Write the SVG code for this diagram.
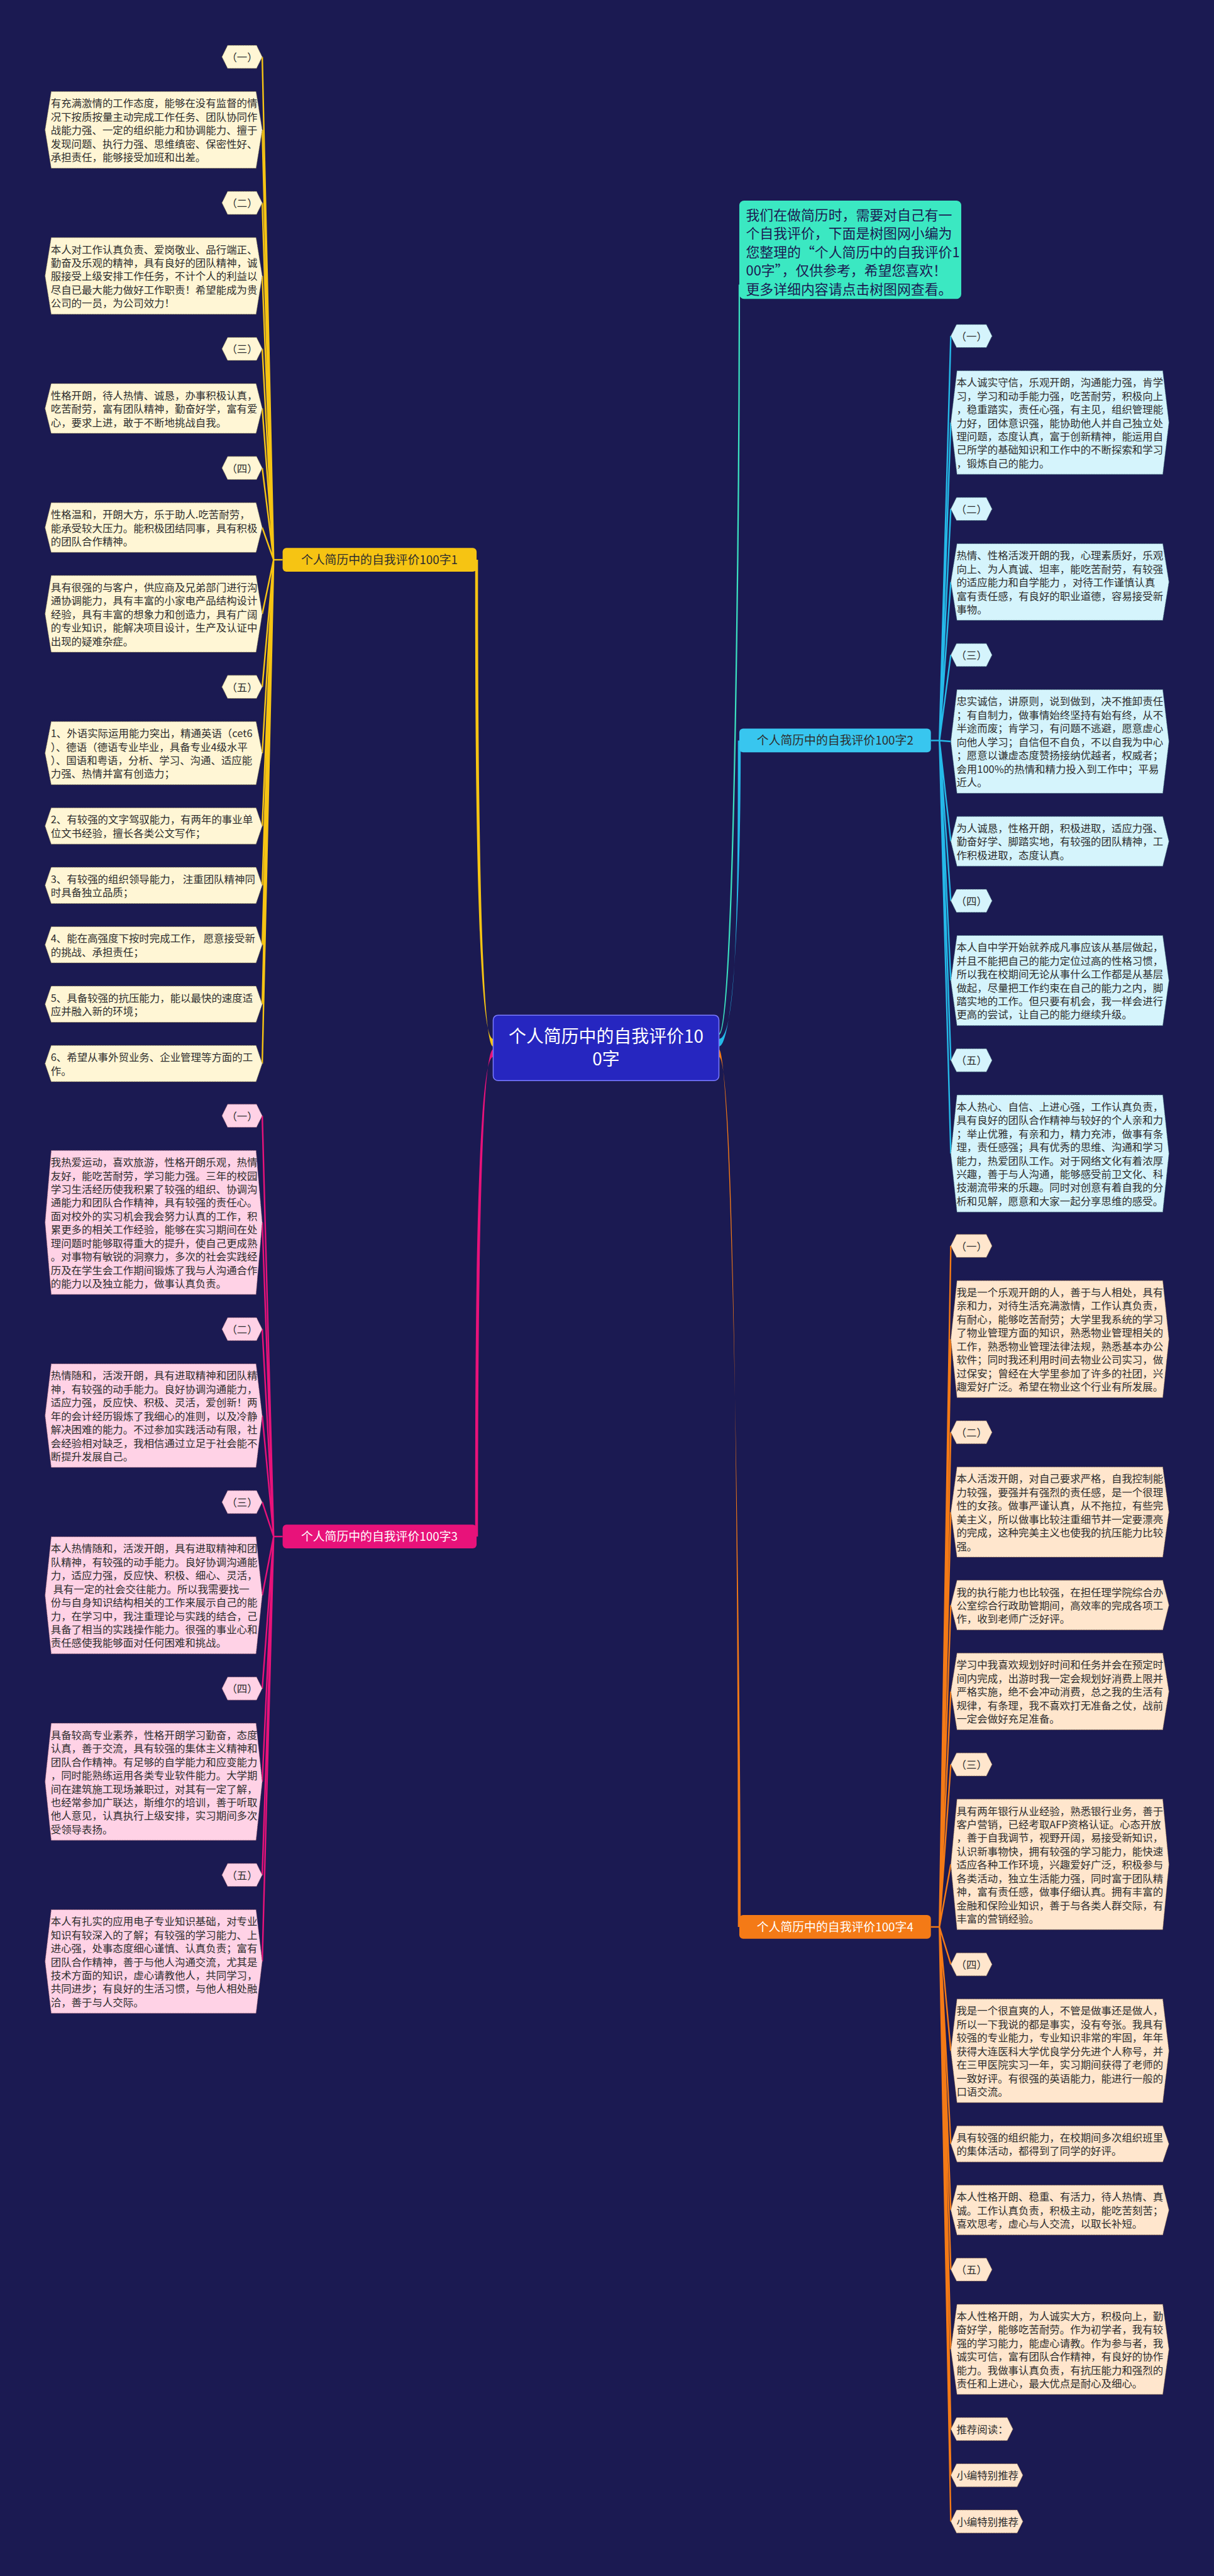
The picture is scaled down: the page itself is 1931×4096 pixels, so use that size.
<svg xmlns="http://www.w3.org/2000/svg" width="1931" height="4096" viewBox="0 0 1931 4096">
<style>
.tx{font-family:"Noto Sans CJK SC","Noto Sans",sans-serif;font-size:21.8px;fill:#2e2e2e}
.lb{font-family:"Noto Sans CJK SC","Noto Sans",sans-serif;font-size:21.8px;fill:#2e2e2e;text-anchor:middle}
.by{fill:#fff6d5;stroke:#7d7148;stroke-width:1.2;stroke-dasharray:2 1.5}
.bp{fill:#ffd2e6;stroke:#7d4a62;stroke-width:1.2;stroke-dasharray:2 1.5}
.bc{fill:#d5f4fc;stroke:#3f6b78;stroke-width:1.2;stroke-dasharray:2 1.5}
.bo{fill:#ffe6cd;stroke:#7d5c40;stroke-width:1.2;stroke-dasharray:2 1.5}
.cy{stroke:#f6c413;stroke-width:3.2;fill:none}
.cp{stroke:#e8127a;stroke-width:3.2;fill:none}
.cc{stroke:#25b9e8;stroke-width:3.2;fill:none}
.co{stroke:#f47a16;stroke-width:3.2;fill:none}
.br{font-family:"Noto Sans CJK SC","Noto Sans",sans-serif;font-size:25px;text-anchor:middle}
</style>
<rect width="1931" height="4096" fill="#1b1a52"/>
<g transform="scale(0.754297)">
<g id="connectors">
<path fill="#f6c413" d="M1040,2190 C1002,2190 1002,1500 1002,1180 L1008,1180 C1008,1500 1010,2206 1040,2206 Z"/>
<path fill="#e8127a" d="M1040,2212 C1010,2212 1008,2900 1008,3239 L1002,3239 C1002,2900 1002,2228 1040,2228 Z"/>
<path fill="#25b9e8" d="M1516,2190 C1554,2190 1556,1900 1556,1561 L1562,1561 C1562,1900 1546,2206 1516,2206 Z"/>
<path fill="#f47a16" d="M1516,2212 C1546,2212 1562,3600 1562,4062 L1556,4062 C1556,3600 1554,2228 1516,2228 Z"/>
<path d="M1516,2180 C1552,2180 1559,900 1559,600" stroke="#3be0c0" stroke-width="3" fill="none"/>
<path class="cy" d="M596,1180 L577,1180"/>
<path class="cy" d="M577,1180 L553,119.9 M577,1180 L553,273.8 M577,1180 L553,427.7 M577,1180 L553,581.6 M577,1180 L553,735.5 M577,1180 L553,861 M577,1180 L553,986.5 M577,1180 L553,1112 M577,1180 L553,1294 M577,1180 L553,1447.9 M577,1180 L553,1587.6 M577,1180 L553,1741.2 M577,1180 L553,1866.4 M577,1180 L553,1991.6 M577,1180 L553,2116.8 M577,1180 L553,2242"/>
<path class="cp" d="M596,3239 L577,3239"/>
<path class="cp" d="M577,3239 L553,2352 M577,3239 L553,2576.9 M577,3239 L553,2801.8 M577,3239 L553,2984.1 M577,3239 L553,3166.4 M577,3239 L553,3362.9 M577,3239 L553,3559.4 M577,3239 L553,3755.9 M577,3239 L553,3952.4 M577,3239 L553,4134.7"/>
<path class="cc" d="M1963,1561 L1981,1561"/>
<path class="cc" d="M1981,1561 L2005,708.3 M1981,1561 L2005,890.6 M1981,1561 L2005,1072.9 M1981,1561 L2005,1226.8 M1981,1561 L2005,1380.7 M1981,1561 L2005,1563 M1981,1561 L2005,1773.4 M1981,1561 L2005,1898.9 M1981,1561 L2005,2067 M1981,1561 L2005,2235.1 M1981,1561 L2005,2431.6"/>
<path class="co" d="M1963,4062 L1981,4062"/>
<path class="co" d="M1981,4062 L2005,2626.3 M1981,4062 L2005,2822.8 M1981,4062 L2005,3019.3 M1981,4062 L2005,3187.4 M1981,4062 L2005,3383.6 M1981,4062 L2005,3565.6 M1981,4062 L2005,3719.5 M1981,4062 L2005,3930.2 M1981,4062 L2005,4140.9 M1981,4062 L2005,4323.2 M1981,4062 L2005,4519.4 M1981,4062 L2005,4658.8 M1981,4062 L2005,4784.3 M1981,4062 L2005,4952.4 M1981,4062 L2005,5120.5 M1981,4062 L2005,5217.9 M1981,4062 L2005,5315.3"/>
</g>

<g id="center">
<rect x="1040" y="2140" width="476" height="138" rx="10" fill="#2626c0" stroke="#7b7bff" stroke-width="2"/>
<text x="1278" y="2198" fill="#fff" font-family="Noto Sans CJK SC,sans-serif" font-size="37" text-anchor="middle">个人简历中的自我评价10</text>
<text x="1278" y="2246" fill="#fff" font-family="Noto Sans CJK SC,sans-serif" font-size="37" text-anchor="middle">0字</text>
</g>

<g id="intro">
<rect x="1559" y="423" width="468" height="207" rx="10" fill="#3be8c2"/>
<text font-family="Noto Sans CJK SC,sans-serif" font-size="29" fill="#1b1a52"><tspan x="1573" y="464">我们在做简历时，需要对自己有一</tspan><tspan x="1573" y="503">个自我评价，下面是树图网小编为</tspan><tspan x="1573" y="542">您整理的“个人简历中的自我评价1</tspan><tspan x="1573" y="581">00字”，仅供参考，希望您喜欢！</tspan><tspan x="1573" y="620">更多详细内容请点击树图网查看。</tspan></text>
</g>

<g id="b1">
<rect x="596" y="1155" width="409" height="50" rx="8" fill="#f6c413"/>
<text class="br" x="800" y="1189" fill="#2e2e2e">个人简历中的自我评价100字1</text>
</g>
<g id="b3">
<rect x="596" y="3214" width="409" height="50" rx="8" fill="#e8127a"/>
<text class="br" x="800" y="3248" fill="#fff">个人简历中的自我评价100字3</text>
</g>
<g id="b2">
<rect x="1559" y="1536" width="404" height="50" rx="8" fill="#38c6ef"/>
<text class="br" x="1761" y="1570" fill="#2e2e2e">个人简历中的自我评价100字2</text>
</g>
<g id="b4">
<rect x="1559" y="4037" width="404" height="50" rx="8" fill="#f47a16"/>
<text class="br" x="1761" y="4071" fill="#fff">个人简历中的自我评价100字4</text>
</g>

<!-- Branch 1 -->
<g id="b1l1"><polygon class="by" points="468,119.9 480,95.6 541,95.6 553,119.9 541,144.2 480,144.2"/><text class="lb" x="510.5" y="128.6">（一）</text></g>
<g id="b1t1"><polygon class="by" points="95,273.8 108,193 540,193 553,273.8 540,354.6 108,354.6"/><text class="tx"><tspan x="107" y="226">有充满激情的工作态度，能够在没有监督的情</tspan><tspan x="107" y="254.4">况下按质按量主动完成工作任务、团队协同作</tspan><tspan x="107" y="282.8">战能力强、一定的组织能力和协调能力、擅于</tspan><tspan x="107" y="311.2">发现问题、执行力强、思维缜密、保密性好、</tspan><tspan x="107" y="339.6">承担责任，能够接受加班和出差。</tspan></text></g>
<g id="b1l2"><polygon class="by" points="468,427.7 480,403.4 541,403.4 553,427.7 541,452 480,452"/><text class="lb" x="510.5" y="436.4">（二）</text></g>
<g id="b1t2"><polygon class="by" points="95,581.6 108,500.8 540,500.8 553,581.6 540,662.4 108,662.4"/><text class="tx"><tspan x="107" y="533.8">本人对工作认真负责、爱岗敬业、品行端正、</tspan><tspan x="107" y="562.2">勤奋及乐观的精神，具有良好的团队精神，诚</tspan><tspan x="107" y="590.6">服接受上级安排工作任务，不计个人的利益以</tspan><tspan x="107" y="619">尽自已最大能力做好工作职责！希望能成为贵</tspan><tspan x="107" y="647.4">公司的一员，为公司效力！</tspan></text></g>
<g id="b1l3"><polygon class="by" points="468,735.5 480,711.2 541,711.2 553,735.5 541,759.8 480,759.8"/><text class="lb" x="510.5" y="744.2">（三）</text></g>
<g id="b1t3"><polygon class="by" points="95,861 108,808.6 540,808.6 553,861 540,913.4 108,913.4"/><text class="tx"><tspan x="107" y="841.6">性格开朗，待人热情、诚恳，办事积极认真，</tspan><tspan x="107" y="870">吃苦耐劳，富有团队精神，勤奋好学，富有爱</tspan><tspan x="107" y="898.4">心，要求上进，敢于不断地挑战自我。</tspan></text></g>
<g id="b1l4"><polygon class="by" points="468,986.5 480,962.2 541,962.2 553,986.5 541,1010.8 480,1010.8"/><text class="lb" x="510.5" y="995.2">（四）</text></g>
<g id="b1t4"><polygon class="by" points="95,1112 108,1059.6 540,1059.6 553,1112 540,1164.4 108,1164.4"/><text class="tx"><tspan x="107" y="1092.6">性格温和，开朗大方，乐于助人.吃苦耐劳，</tspan><tspan x="107" y="1121">能承受较大压力。能积极团结同事，具有积极</tspan><tspan x="107" y="1149.4">的团队合作精神。</tspan></text></g>
<g id="b1t5"><polygon class="by" points="95,1294 108,1213.2 540,1213.2 553,1294 540,1374.8 108,1374.8"/><text class="tx"><tspan x="107" y="1246.2">具有很强的与客户，供应商及兄弟部门进行沟</tspan><tspan x="107" y="1274.6">通协调能力，具有丰富的小家电产品结构设计</tspan><tspan x="107" y="1303">经验，具有丰富的想象力和创造力，具有广阔</tspan><tspan x="107" y="1331.4">的专业知识，能解决项目设计，生产及认证中</tspan><tspan x="107" y="1359.8">出现的疑难杂症。</tspan></text></g>
<g id="b1l5"><polygon class="by" points="468,1447.9 480,1423.6 541,1423.6 553,1447.9 541,1472.2 480,1472.2"/><text class="lb" x="510.5" y="1456.6">（五）</text></g>
<g id="b1t6"><polygon class="by" points="95,1587.6 108,1521 540,1521 553,1587.6 540,1654.2 108,1654.2"/><text class="tx"><tspan x="107" y="1554">1、外语实际运用能力突出，精通英语（cet6</tspan><tspan x="107" y="1582.4">）、德语（德语专业毕业，具备专业4级水平</tspan><tspan x="107" y="1610.8">）、国语和粤语，分析、学习、沟通、适应能</tspan><tspan x="107" y="1639.2">力强、热情并富有创造力；</tspan></text></g>
<g id="b1t7"><polygon class="by" points="95,1741.2 108,1703 540,1703 553,1741.2 540,1779.4 108,1779.4"/><text class="tx"><tspan x="107" y="1736">2、有较强的文字驾驭能力，有两年的事业单</tspan><tspan x="107" y="1764.4">位文书经验，擅长各类公文写作；</tspan></text></g>
<g id="b1t8"><polygon class="by" points="95,1866.4 108,1828.2 540,1828.2 553,1866.4 540,1904.6 108,1904.6"/><text class="tx"><tspan x="107" y="1861.2">3、有较强的组织领导能力， 注重团队精神同</tspan><tspan x="107" y="1889.6">时具备独立品质；</tspan></text></g>
<g id="b1t9"><polygon class="by" points="95,1991.6 108,1953.4 540,1953.4 553,1991.6 540,2029.8 108,2029.8"/><text class="tx"><tspan x="107" y="1986.4">4、能在高强度下按时完成工作， 愿意接受新</tspan><tspan x="107" y="2014.8">的挑战、承担责任；</tspan></text></g>
<g id="b1t10"><polygon class="by" points="95,2116.8 108,2078.6 540,2078.6 553,2116.8 540,2155 108,2155"/><text class="tx"><tspan x="107" y="2111.6">5、具备较强的抗压能力，能以最快的速度适</tspan><tspan x="107" y="2140">应并融入新的环境；</tspan></text></g>
<g id="b1t11"><polygon class="by" points="95,2242 108,2203.8 540,2203.8 553,2242 540,2280.2 108,2280.2"/><text class="tx"><tspan x="107" y="2236.8">6、希望从事外贸业务、企业管理等方面的工</tspan><tspan x="107" y="2265.2">作。</tspan></text></g>

<!-- Branch 3 -->
<g id="b3l1"><polygon class="bp" points="468,2352 480,2327.7 541,2327.7 553,2352 541,2376.3 480,2376.3"/><text class="lb" x="510.5" y="2360.7">（一）</text></g>
<g id="b3t1"><polygon class="bp" points="95,2576.9 108,2425.1 540,2425.1 553,2576.9 540,2728.7 108,2728.7"/><text class="tx"><tspan x="107" y="2458.1">我热爱运动，喜欢旅游，性格开朗乐观，热情</tspan><tspan x="107" y="2486.5">友好，能吃苦耐劳，学习能力强。三年的校园</tspan><tspan x="107" y="2514.9">学习生活经历使我积累了较强的组织、协调沟</tspan><tspan x="107" y="2543.3">通能力和团队合作精神，具有较强的责任心。</tspan><tspan x="107" y="2571.7">面对校外的实习机会我会努力认真的工作，积</tspan><tspan x="107" y="2600.1">累更多的相关工作经验，能够在实习期间在处</tspan><tspan x="107" y="2628.5">理问题时能够取得重大的提升，使自己更成熟</tspan><tspan x="107" y="2656.9">。对事物有敏锐的洞察力，多次的社会实践经</tspan><tspan x="107" y="2685.3">历及在学生会工作期间锻炼了我与人沟通合作</tspan><tspan x="107" y="2713.7">的能力以及独立能力，做事认真负责。</tspan></text></g>
<g id="b3l2"><polygon class="bp" points="468,2801.8 480,2777.5 541,2777.5 553,2801.8 541,2826.1 480,2826.1"/><text class="lb" x="510.5" y="2810.5">（二）</text></g>
<g id="b3t2"><polygon class="bp" points="95,2984.1 108,2874.9 540,2874.9 553,2984.1 540,3093.3 108,3093.3"/><text class="tx"><tspan x="107" y="2907.9">热情随和，活泼开朗，具有进取精神和团队精</tspan><tspan x="107" y="2936.3">神，有较强的动手能力。良好协调沟通能力，</tspan><tspan x="107" y="2964.7">适应力强，反应快、积极、灵活，爱创新！两</tspan><tspan x="107" y="2993.1">年的会计经历锻炼了我细心的准则，以及冷静</tspan><tspan x="107" y="3021.5">解决困难的能力。不过参加实践活动有限，社</tspan><tspan x="107" y="3049.9">会经验相对缺乏，我相信通过立足于社会能不</tspan><tspan x="107" y="3078.3">断提升发展自己。</tspan></text></g>
<g id="b3l3"><polygon class="bp" points="468,3166.4 480,3142.1 541,3142.1 553,3166.4 541,3190.7 480,3190.7"/><text class="lb" x="510.5" y="3175.1">（三）</text></g>
<g id="b3t3"><polygon class="bp" points="95,3362.9 108,3239.5 540,3239.5 553,3362.9 540,3486.3 108,3486.3"/><text class="tx"><tspan x="107" y="3272.5">本人热情随和，活泼开朗，具有进取精神和团</tspan><tspan x="107" y="3300.9">队精神，有较强的动手能力。良好协调沟通能</tspan><tspan x="107" y="3329.3">力，适应力强，反应快、积极、细心、灵活，</tspan><tspan x="107" y="3357.7"> 具有一定的社会交往能力。所以我需要找一</tspan><tspan x="107" y="3386.1">份与自身知识结构相关的工作来展示自己的能</tspan><tspan x="107" y="3414.5">力，在学习中，我注重理论与实践的结合，己</tspan><tspan x="107" y="3442.9">具备了相当的实践操作能力。很强的事业心和</tspan><tspan x="107" y="3471.3">责任感使我能够面对任何困难和挑战。</tspan></text></g>
<g id="b3l4"><polygon class="bp" points="468,3559.4 480,3535.1 541,3535.1 553,3559.4 541,3583.7 480,3583.7"/><text class="lb" x="510.5" y="3568.1">（四）</text></g>
<g id="b3t4"><polygon class="bp" points="95,3755.9 108,3632.5 540,3632.5 553,3755.9 540,3879.3 108,3879.3"/><text class="tx"><tspan x="107" y="3665.5">具备较高专业素养，性格开朗学习勤奋，态度</tspan><tspan x="107" y="3693.9">认真，善于交流，具有较强的集体主义精神和</tspan><tspan x="107" y="3722.3">团队合作精神。有足够的自学能力和应变能力</tspan><tspan x="107" y="3750.7">，同时能熟练运用各类专业软件能力。大学期</tspan><tspan x="107" y="3779.1">间在建筑施工现场兼职过，对其有一定了解，</tspan><tspan x="107" y="3807.5">也经常参加广联达，斯维尔的培训，善于听取</tspan><tspan x="107" y="3835.9">他人意见，认真执行上级安排，实习期间多次</tspan><tspan x="107" y="3864.3">受领导表扬。</tspan></text></g>
<g id="b3l5"><polygon class="bp" points="468,3952.4 480,3928.1 541,3928.1 553,3952.4 541,3976.7 480,3976.7"/><text class="lb" x="510.5" y="3961.1">（五）</text></g>
<g id="b3t5"><polygon class="bp" points="95,4134.7 108,4025.5 540,4025.5 553,4134.7 540,4243.9 108,4243.9"/><text class="tx"><tspan x="107" y="4058.5">本人有扎实的应用电子专业知识基础，对专业</tspan><tspan x="107" y="4086.9">知识有较深入的了解；有较强的学习能力、上</tspan><tspan x="107" y="4115.3">进心强，处事态度细心谨慎、认真负责；富有</tspan><tspan x="107" y="4143.7">团队合作精神，善于与他人沟通交流，尤其是</tspan><tspan x="107" y="4172.1">技术方面的知识，虚心请教他人，共同学习，</tspan><tspan x="107" y="4200.5">共同进步；有良好的生活习惯，与他人相处融</tspan><tspan x="107" y="4228.9">洽，善于与人交际。</tspan></text></g>

<!-- Branch 2 -->
<g id="b2l1"><polygon class="bc" points="2005,708.3 2017,684 2080,684 2092,708.3 2080,732.6 2017,732.6"/><text class="lb" x="2048.5" y="717">（一）</text></g>
<g id="b2t1"><polygon class="bc" points="2005,890.6 2018,781.4 2452,781.4 2465,890.6 2452,999.8 2018,999.8"/><text class="tx"><tspan x="2017" y="814.4">本人诚实守信，乐观开朗，沟通能力强，肯学</tspan><tspan x="2017" y="842.8">习，学习和动手能力强，吃苦耐劳，积极向上</tspan><tspan x="2017" y="871.2">，稳重踏实，责任心强，有主见，组织管理能</tspan><tspan x="2017" y="899.6">力好，团体意识强，能协助他人并自己独立处</tspan><tspan x="2017" y="928">理问题，态度认真，富于创新精神，能运用自</tspan><tspan x="2017" y="956.4">己所学的基础知识和工作中的不断探索和学习</tspan><tspan x="2017" y="984.8">，锻炼自己的能力。</tspan></text></g>
<g id="b2l2"><polygon class="bc" points="2005,1072.9 2017,1048.6 2080,1048.6 2092,1072.9 2080,1097.2 2017,1097.2"/><text class="lb" x="2048.5" y="1081.6">（二）</text></g>
<g id="b2t2"><polygon class="bc" points="2005,1226.8 2018,1146 2452,1146 2465,1226.8 2452,1307.6 2018,1307.6"/><text class="tx"><tspan x="2017" y="1179">热情、性格活泼开朗的我，心理素质好，乐观</tspan><tspan x="2017" y="1207.4">向上、为人真诚、坦率，能吃苦耐劳，有较强</tspan><tspan x="2017" y="1235.8">的适应能力和自学能力 ，对待工作谨慎认真</tspan><tspan x="2017" y="1264.2">富有责任感，有良好的职业道德，容易接受新</tspan><tspan x="2017" y="1292.6">事物。</tspan></text></g>
<g id="b2l3"><polygon class="bc" points="2005,1380.7 2017,1356.4 2080,1356.4 2092,1380.7 2080,1405 2017,1405"/><text class="lb" x="2048.5" y="1389.4">（三）</text></g>
<g id="b2t3"><polygon class="bc" points="2005,1563 2018,1453.8 2452,1453.8 2465,1563 2452,1672.2 2018,1672.2"/><text class="tx"><tspan x="2017" y="1486.8">忠实诚信，讲原则，说到做到，决不推卸责任</tspan><tspan x="2017" y="1515.2">；有自制力，做事情始终坚持有始有终，从不</tspan><tspan x="2017" y="1543.6">半途而废；肯学习，有问题不逃避，愿意虚心</tspan><tspan x="2017" y="1572">向他人学习；自信但不自负，不以自我为中心</tspan><tspan x="2017" y="1600.4">；愿意以谦虚态度赞扬接纳优越者，权威者；</tspan><tspan x="2017" y="1628.8">会用100%的热情和精力投入到工作中；平易</tspan><tspan x="2017" y="1657.2">近人。</tspan></text></g>
<g id="b2t4"><polygon class="bc" points="2005,1773.4 2018,1721 2452,1721 2465,1773.4 2452,1825.8 2018,1825.8"/><text class="tx"><tspan x="2017" y="1754">为人诚恳，性格开朗，积极进取，适应力强、</tspan><tspan x="2017" y="1782.4">勤奋好学、脚踏实地，有较强的团队精神，工</tspan><tspan x="2017" y="1810.8">作积极进取，态度认真。</tspan></text></g>
<g id="b2l4"><polygon class="bc" points="2005,1898.9 2017,1874.6 2080,1874.6 2092,1898.9 2080,1923.2 2017,1923.2"/><text class="lb" x="2048.5" y="1907.6">（四）</text></g>
<g id="b2t5"><polygon class="bc" points="2005,2067 2018,1972 2452,1972 2465,2067 2452,2162 2018,2162"/><text class="tx"><tspan x="2017" y="2005">本人自中学开始就养成凡事应该从基层做起，</tspan><tspan x="2017" y="2033.4">并且不能把自己的能力定位过高的性格习惯，</tspan><tspan x="2017" y="2061.8">所以我在校期间无论从事什么工作都是从基层</tspan><tspan x="2017" y="2090.2">做起，尽量把工作约束在自己的能力之内，脚</tspan><tspan x="2017" y="2118.6">踏实地的工作。但只要有机会，我一样会进行</tspan><tspan x="2017" y="2147">更高的尝试，让自己的能力继续升级。</tspan></text></g>
<g id="b2l5"><polygon class="bc" points="2005,2235.1 2017,2210.8 2080,2210.8 2092,2235.1 2080,2259.4 2017,2259.4"/><text class="lb" x="2048.5" y="2243.8">（五）</text></g>
<g id="b2t6"><polygon class="bc" points="2005,2431.6 2018,2308.2 2452,2308.2 2465,2431.6 2452,2555 2018,2555"/><text class="tx"><tspan x="2017" y="2341.2">本人热心、自信、上进心强，工作认真负责，</tspan><tspan x="2017" y="2369.6">具有良好的团队合作精神与较好的个人亲和力</tspan><tspan x="2017" y="2398">；举止优雅，有亲和力，精力充沛，做事有条</tspan><tspan x="2017" y="2426.4">理，责任感强；具有优秀的思维、沟通和学习</tspan><tspan x="2017" y="2454.8">能力，热爱团队工作。对于网络文化有着浓厚</tspan><tspan x="2017" y="2483.2">兴趣，善于与人沟通，能够感受前卫文化、科</tspan><tspan x="2017" y="2511.6">技潮流带来的乐趣。同时对创意有着自我的分</tspan><tspan x="2017" y="2540">析和见解，愿意和大家一起分享思维的感受。</tspan></text></g>

<!-- Branch 4 -->
<g id="b4l1"><polygon class="bo" points="2005,2626.3 2017,2602 2080,2602 2092,2626.3 2080,2650.6 2017,2650.6"/><text class="lb" x="2048.5" y="2635">（一）</text></g>
<g id="b4t1"><polygon class="bo" points="2005,2822.8 2018,2699.4 2452,2699.4 2465,2822.8 2452,2946.2 2018,2946.2"/><text class="tx"><tspan x="2017" y="2732.4">我是一个乐观开朗的人，善于与人相处，具有</tspan><tspan x="2017" y="2760.8">亲和力，对待生活充满激情，工作认真负责，</tspan><tspan x="2017" y="2789.2">有耐心，能够吃苦耐劳；大学里我系统的学习</tspan><tspan x="2017" y="2817.6">了物业管理方面的知识，熟悉物业管理相关的</tspan><tspan x="2017" y="2846">工作，熟悉物业管理法律法规，熟悉基本办公</tspan><tspan x="2017" y="2874.4">软件；同时我还利用时间去物业公司实习，做</tspan><tspan x="2017" y="2902.8">过保安；曾经在大学里参加了许多的社团，兴</tspan><tspan x="2017" y="2931.2">趣爱好广泛。希望在物业这个行业有所发展。</tspan></text></g>
<g id="b4l2"><polygon class="bo" points="2005,3019.3 2017,2995 2080,2995 2092,3019.3 2080,3043.6 2017,3043.6"/><text class="lb" x="2048.5" y="3028">（二）</text></g>
<g id="b4t2"><polygon class="bo" points="2005,3187.4 2018,3092.4 2452,3092.4 2465,3187.4 2452,3282.4 2018,3282.4"/><text class="tx"><tspan x="2017" y="3125.4">本人活泼开朗，对自己要求严格，自我控制能</tspan><tspan x="2017" y="3153.8">力较强，要强并有强烈的责任感，是一个很理</tspan><tspan x="2017" y="3182.2">性的女孩。做事严谨认真，从不拖拉，有些完</tspan><tspan x="2017" y="3210.6">美主义，所以做事比较注重细节并一定要漂亮</tspan><tspan x="2017" y="3239">的完成，这种完美主义也使我的抗压能力比较</tspan><tspan x="2017" y="3267.4">强。</tspan></text></g>
<g id="b4t3"><polygon class="bo" points="2005,3383.6 2018,3331.2 2452,3331.2 2465,3383.6 2452,3436 2018,3436"/><text class="tx"><tspan x="2017" y="3364.2">我的执行能力也比较强，在担任理学院综合办</tspan><tspan x="2017" y="3392.6">公室综合行政助管期间，高效率的完成各项工</tspan><tspan x="2017" y="3421">作，收到老师广泛好评。</tspan></text></g>
<g id="b4t4"><polygon class="bo" points="2005,3565.6 2018,3484.8 2452,3484.8 2465,3565.6 2452,3646.4 2018,3646.4"/><text class="tx"><tspan x="2017" y="3517.8">学习中我喜欢规划好时间和任务并会在预定时</tspan><tspan x="2017" y="3546.2">间内完成，出游时我一定会规划好消费上限并</tspan><tspan x="2017" y="3574.6">严格实施，绝不会冲动消费，总之我的生活有</tspan><tspan x="2017" y="3603">规律，有条理，我不喜欢打无准备之仗，战前</tspan><tspan x="2017" y="3631.4">一定会做好充足准备。</tspan></text></g>
<g id="b4l3"><polygon class="bo" points="2005,3719.5 2017,3695.2 2080,3695.2 2092,3719.5 2080,3743.8 2017,3743.8"/><text class="lb" x="2048.5" y="3728.2">（三）</text></g>
<g id="b4t5"><polygon class="bo" points="2005,3930.2 2018,3792.6 2452,3792.6 2465,3930.2 2452,4067.8 2018,4067.8"/><text class="tx"><tspan x="2017" y="3825.6">具有两年银行从业经验，熟悉银行业务，善于</tspan><tspan x="2017" y="3854">客户营销，已经考取AFP资格认证。心态开放</tspan><tspan x="2017" y="3882.4">，善于自我调节，视野开阔，易接受新知识，</tspan><tspan x="2017" y="3910.8">认识新事物快，拥有较强的学习能力，能快速</tspan><tspan x="2017" y="3939.2">适应各种工作环境，兴趣爱好广泛，积极参与</tspan><tspan x="2017" y="3967.6">各类活动，独立生活能力强，同时富于团队精</tspan><tspan x="2017" y="3996">神，富有责任感，做事仔细认真。拥有丰富的</tspan><tspan x="2017" y="4024.4">金融和保险业知识，善于与各类人群交际，有</tspan><tspan x="2017" y="4052.8">丰富的营销经验。</tspan></text></g>
<g id="b4l4"><polygon class="bo" points="2005,4140.9 2017,4116.6 2080,4116.6 2092,4140.9 2080,4165.2 2017,4165.2"/><text class="lb" x="2048.5" y="4149.6">（四）</text></g>
<g id="b4t6"><polygon class="bo" points="2005,4323.2 2018,4214 2452,4214 2465,4323.2 2452,4432.4 2018,4432.4"/><text class="tx"><tspan x="2017" y="4247">我是一个很直爽的人，不管是做事还是做人，</tspan><tspan x="2017" y="4275.4">所以一下我说的都是事实，没有夸张。我具有</tspan><tspan x="2017" y="4303.8">较强的专业能力，专业知识非常的牢固，年年</tspan><tspan x="2017" y="4332.2">获得大连医科大学优良学分先进个人称号，并</tspan><tspan x="2017" y="4360.6">在三甲医院实习一年，实习期间获得了老师的</tspan><tspan x="2017" y="4389">一致好评。有很强的英语能力，能进行一般的</tspan><tspan x="2017" y="4417.4">口语交流。</tspan></text></g>
<g id="b4t7"><polygon class="bo" points="2005,4519.4 2018,4481.2 2452,4481.2 2465,4519.4 2452,4557.6 2018,4557.6"/><text class="tx"><tspan x="2017" y="4514.2">具有较强的组织能力，在校期间多次组织班里</tspan><tspan x="2017" y="4542.6">的集体活动，都得到了同学的好评。</tspan></text></g>
<g id="b4t8"><polygon class="bo" points="2005,4658.8 2018,4606.4 2452,4606.4 2465,4658.8 2452,4711.2 2018,4711.2"/><text class="tx"><tspan x="2017" y="4639.4">本人性格开朗、稳重、有活力，待人热情、真</tspan><tspan x="2017" y="4667.8">诚。工作认真负责，积极主动，能吃苦刻苦；</tspan><tspan x="2017" y="4696.2">喜欢思考，虚心与人交流，以取长补短。</tspan></text></g>
<g id="b4l5"><polygon class="bo" points="2005,4784.3 2017,4760 2080,4760 2092,4784.3 2080,4808.6 2017,4808.6"/><text class="lb" x="2048.5" y="4793">（五）</text></g>
<g id="b4t9"><polygon class="bo" points="2005,4952.4 2018,4857.4 2452,4857.4 2465,4952.4 2452,5047.4 2018,5047.4"/><text class="tx"><tspan x="2017" y="4890.4">本人性格开朗，为人诚实大方，积极向上，勤</tspan><tspan x="2017" y="4918.8">奋好学，能够吃苦耐劳。作为初学者，我有较</tspan><tspan x="2017" y="4947.2">强的学习能力，能虚心请教。作为参与者，我</tspan><tspan x="2017" y="4975.6">诚实可信，富有团队合作精神，有良好的协作</tspan><tspan x="2017" y="5004">能力。我做事认真负责，有抗压能力和强烈的</tspan><tspan x="2017" y="5032.4">责任和上进心，最大优点是耐心及细心。</tspan></text></g>
<g id="b4t10"><polygon class="bo" points="2005,5120.5 2017,5096.2 2124,5096.2 2136,5120.5 2124,5144.8 2017,5144.8"/><text class="tx" x="2017" y="5129.2">推荐阅读：</text></g>
<g id="b4t11"><polygon class="bo" points="2005,5217.9 2017,5193.6 2145,5193.6 2157,5217.9 2145,5242.2 2017,5242.2"/><text class="tx" x="2017" y="5226.6">小编特别推荐</text></g>
<g id="b4t12"><polygon class="bo" points="2005,5315.3 2017,5291 2145,5291 2157,5315.3 2145,5339.6 2017,5339.6"/><text class="tx" x="2017" y="5324">小编特别推荐</text></g>
</g>
</svg>
